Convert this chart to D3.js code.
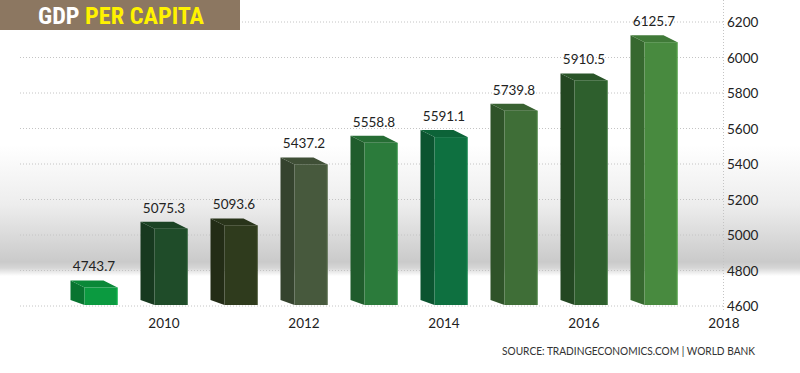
<!DOCTYPE html>
<html>
<head lang="en">
    <meta charset="UTF-8">
    <title>GDP per capita</title>
    <script src="https://cdn.jsdelivr.net/npm/d3@7/dist/d3.min.js"></script>
    <style>
        body { margin: 0; background: #fff; }
        text { font-family: Lato, "Liberation Sans", sans-serif; fill: #222; }
    </style>
</head>
<body>
<div id="chart"></div>
<script>
    // data
    var years = [2009, 2010, 2011, 2012, 2013, 2014, 2015, 2016, 2017];
    var values = [4743.7, 5075.3, 5093.6, 5437.2, 5558.8, 5591.1, 5739.8, 5910.5, 6125.7];
    var xTicks = [2010, 2012, 2014, 2016, 2018];
    var yTicks = [4600, 4800, 5000, 5200, 5400, 5600, 5800, 6000, 6200];

    // front face colour of each bar
    var barColors = ["#0b9a40", "#1f4c29", "#2f3b1d", "#47593d", "#2b7b3b",
                     "#0e7040", "#3f6e37", "#2e5f2d", "#488a3f"];

    var W = 800, H = 373;
    var svg = d3.select("#chart").append("svg")
            .attr("width", W)
            .attr("height", H);

    var defs = svg.append("defs");
    var grad = defs.append("linearGradient")
            .attr("id", "bg")
            .attr("gradientUnits", "userSpaceOnUse")
            .attr("x1", 0).attr("y1", 0).attr("x2", 0).attr("y2", H);
    [[0, "#ffffff"], [145, "#ffffff"], [205, "#ededed"], [262, "#cacaca"],
     [268, "#d6d6d6"], [276, "#ffffff"], [H, "#ffffff"]].forEach(function(s){
        grad.append("stop").attr("offset", s[0] / H).attr("stop-color", s[1]);
    });
    svg.append("rect").attr("width", W).attr("height", H).attr("fill", "url(#bg)");

    var x = d3.scalePoint()
            .domain(d3.range(2009, 2019))
            .range([94, 724]);
    var y = d3.scaleLinear()
            .domain([4600, 6200])
            .range([306, 22]);

    // grid
    svg.append("g").selectAll("line")
            .data(yTicks)
            .enter().append("line")
            .attr("x1", 20).attr("x2", 723)
            .attr("y1", function(d){ return y(d); })
            .attr("y2", function(d){ return y(d); })
            .attr("stroke", "#c4c4c4")
            .attr("stroke-dasharray", "1,2");
    svg.append("line")
            .attr("x1", 723.5).attr("x2", 723.5)
            .attr("y1", 0).attr("y2", 312)
            .attr("stroke", "#c4c4c4")
            .attr("stroke-dasharray", "1,2");

    // y labels
    svg.append("g").selectAll("text")
            .data(yTicks)
            .enter().append("text")
            .attr("x", 727)
            .attr("y", function(d){ return y(d) + 5; })
            .attr("font-size", 13.5)
            .text(function(d){ return d; });

    // 3d bars
    var front = 33, depth = 14, lift = 7, base = 305;
    var bars = svg.append("g").selectAll("g")
            .data(years)
            .enter().append("g");

    bars.each(function(yr, i){
        var g = d3.select(this);
        var c = x(yr);
        var x0 = c - 9.5, x1 = x0 + front;
        var top = y(values[i]) + lift;
        var col = d3.color(barColors[i]);
        // side
        g.append("path")
            .attr("d", "M" + x0 + "," + top + "L" + (x0 - depth) + "," + (top - lift) +
                    "L" + (x0 - depth) + "," + (base - 5) + "L" + x0 + "," + base + "Z")
            .attr("fill", col.darker(0.8));
        // top
        g.append("path")
            .attr("d", "M" + x0 + "," + top + "L" + x1 + "," + top +
                    "L" + (x1 - depth) + "," + (top - lift) + "L" + (x0 - depth) + "," + (top - lift) + "Z")
            .attr("fill", col.darker(0.35));
        // front
        g.append("rect")
            .attr("x", x0).attr("y", top)
            .attr("width", front).attr("height", base - top)
            .attr("fill", col);
        g.append("line")
            .attr("x1", x1 - 0.5).attr("x2", x1 - 0.5)
            .attr("y1", top).attr("y2", base)
            .attr("stroke", col.brighter(0.5))
            .attr("stroke-width", 1);
        g.append("text")
            .attr("x", c)
            .attr("y", y(values[i]) - 9)
            .attr("text-anchor", "middle")
            .attr("font-size", 13.5)
            .text(values[i].toFixed(1));
    });

    // x labels
    svg.append("g").selectAll("text")
            .data(xTicks)
            .enter().append("text")
            .attr("x", function(d){ return x(d); })
            .attr("y", 328)
            .attr("text-anchor", "middle")
            .attr("font-size", 13.5)
            .text(function(d){ return d; });

    // title
    svg.append("rect")
            .attr("x", 0).attr("y", 0)
            .attr("width", 240).attr("height", 30)
            .attr("fill", "#8c7761");
    var title = svg.append("text")
            .attr("x", 38).attr("y", 24)
            .attr("font-size", 24)
            .attr("font-weight", "bold")
            .attr("textLength", 166)
            .attr("lengthAdjust", "spacingAndGlyphs")
            .style("font-family", "'Liberation Sans Narrow', 'Roboto Condensed', sans-serif");
    title.append("tspan").style("fill", "#ffffff").text("GDP ");
    title.append("tspan").style("fill", "#fff200").text("PER CAPITA");

    // source
    svg.append("text")
            .attr("x", 502).attr("y", 355)
            .attr("font-size", 11)
            .attr("textLength", 253)
            .attr("lengthAdjust", "spacingAndGlyphs")
            .style("fill", "#333")
            .text("SOURCE: TRADINGECONOMICS.COM | WORLD BANK");
</script>
</body>
</html>
